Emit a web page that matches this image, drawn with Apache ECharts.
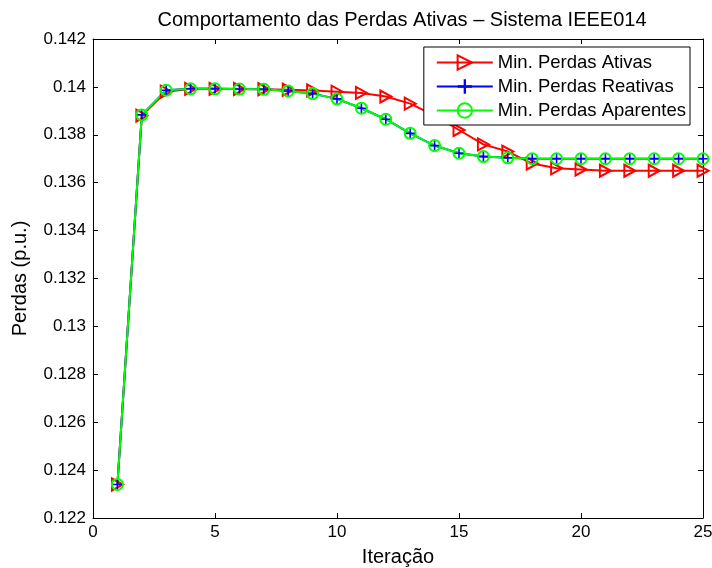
<!DOCTYPE html>
<html>
<head>
<meta charset="utf-8">
<script src="https://cdn.jsdelivr.net/npm/echarts@6/dist/echarts.min.js"></script>
<style>
  html, body { margin: 0; padding: 0; background: #fff; }
  #chart { width: 712px; height: 568px; }
</style>
</head>
<body>
<div id="chart"></div>
<script>
// Iterations 1..25
const iteracoes = [1,2,3,4,5,6,7,8,9,10,11,12,13,14,15,16,17,18,19,20,21,22,23,24,25];

// Losses (p.u.) for each optimisation objective
const perdasAtivas = [0.1234, 0.1388, 0.1398, 0.13992, 0.13992, 0.13991, 0.1399, 0.13988, 0.13985, 0.1398,
  0.13975, 0.1396, 0.1393, 0.1388, 0.1382, 0.1376, 0.1373, 0.1368, 0.1366, 0.13655,
  0.1365, 0.1365, 0.1365, 0.1365, 0.1365];
const perdasReativas = [0.1234, 0.13883, 0.13986, 0.13992, 0.13992, 0.13991, 0.1399, 0.13983, 0.13972, 0.1395,
  0.13911, 0.13865, 0.13806, 0.13755, 0.13723, 0.13709, 0.13704, 0.137, 0.137, 0.137,
  0.137, 0.137, 0.137, 0.137, 0.137];
const perdasAparentes = [0.1234, 0.13883, 0.13986, 0.13992, 0.13992, 0.13991, 0.1399, 0.13983, 0.13972, 0.1395,
  0.13911, 0.13865, 0.13806, 0.13755, 0.13723, 0.13709, 0.13704, 0.137, 0.137, 0.137,
  0.137, 0.137, 0.137, 0.137, 0.137];

const pares = (ys) => iteracoes.map((x, i) => [x, ys[i]]);

const fonte = 'Liberation Sans, Arial, Helvetica, sans-serif';
const TRI = 'path://M0,0 L10,5 L0,10 Z';
const PLUS = 'path://M4.2,0 H5.8 V4.2 H10 V5.8 H5.8 V10 H4.2 V5.8 H0 V4.2 H4.2 Z';

const chart = echarts.init(document.getElementById('chart'), null, { renderer: 'canvas' });

const eixoX = (pos, labels) => ({
  type: 'value', position: pos, min: 0, max: 25, interval: 5,
  axisLine: { show: true, onZero: false, lineStyle: { color: '#000', width: 1 } },
  axisTick: { show: true, inside: true, length: 5, lineStyle: { color: '#000' } },
  axisLabel: { show: labels, color: '#000', fontSize: 17, fontFamily: fonte, margin: 6 },
  splitLine: { show: false }
});
const eixoY = (pos, labels) => ({
  type: 'value', position: pos, min: 0.122, max: 0.142, interval: 0.002,
  axisLine: { show: true, onZero: false, lineStyle: { color: '#000', width: 1 } },
  axisTick: { show: true, inside: true, length: 5, lineStyle: { color: '#000' } },
  axisLabel: { show: labels, color: '#000', fontSize: 17, fontFamily: fonte, margin: 7,
    formatter: v => String(+v.toFixed(3)) },
  splitLine: { show: false }
});

chart.setOption({
  animation: false,
  backgroundColor: '#fff',
  title: {
    text: 'Comportamento das Perdas Ativas \u2013 Sistema IEEE014',
    left: 397, top: 5, textAlign: 'center',
    textStyle: { color: '#000', fontSize: 20, fontWeight: 'normal', fontFamily: fonte }
  },
  grid: { left: 93, right: 9, top: 39, bottom: 50, containLabel: false, outerBoundsMode: 'none' },
  xAxis: [
    Object.assign(eixoX('bottom', true), {
      name: 'Itera\u00e7\u00e3o', nameLocation: 'middle', nameGap: 29,
      nameTextStyle: { color: '#000', fontSize: 20, fontFamily: fonte }
    }),
    eixoX('top', false)
  ],
  yAxis: [
    Object.assign(eixoY('left', true), {
      name: 'Perdas (p.u.)', nameLocation: 'middle', nameGap: 63,
      nameTextStyle: { color: '#000', fontSize: 20, fontFamily: fonte }
    }),
    eixoY('right', false)
  ],
  legend: {
    orient: 'vertical', right: 22, top: 47,
    backgroundColor: '#fff', borderColor: '#000', borderWidth: 1, borderRadius: 0,
    padding: [6, 4, 5, 12], itemGap: 5, itemWidth: 56, itemHeight: 18,
    textStyle: { color: '#000', fontSize: 18.5, fontFamily: fonte, lineHeight: 18 },
    data: ['Min. Perdas Ativas', 'Min. Perdas Reativas', 'Min. Perdas Aparentes']
  },
  series: [
    {
      name: 'Min. Perdas Ativas', type: 'line', data: pares(perdasAtivas),
      symbol: TRI, symbolSize: [11, 12], showAllSymbol: true,
      lineStyle: { color: '#ff0000', width: 2 },
      itemStyle: { color: 'rgba(255,255,255,0)', borderColor: '#ff0000', borderWidth: 2 },
      emphasis: { disabled: true }
    },
    {
      name: 'Min. Perdas Reativas', type: 'line', data: pares(perdasReativas),
      symbol: PLUS, symbolSize: 10, showAllSymbol: true,
      lineStyle: { color: '#0000ff', width: 2 },
      itemStyle: { color: '#0000ff' },
      emphasis: { disabled: true }
    },
    {
      name: 'Min. Perdas Aparentes', type: 'line', data: pares(perdasAparentes),
      symbol: 'circle', symbolSize: 11, showAllSymbol: true,
      lineStyle: { color: '#00ff00', width: 2 },
      itemStyle: { color: 'rgba(255,255,255,0)', borderColor: '#00ff00', borderWidth: 2 },
      emphasis: { disabled: true }
    }
  ]
});
</script>
</body>
</html>
